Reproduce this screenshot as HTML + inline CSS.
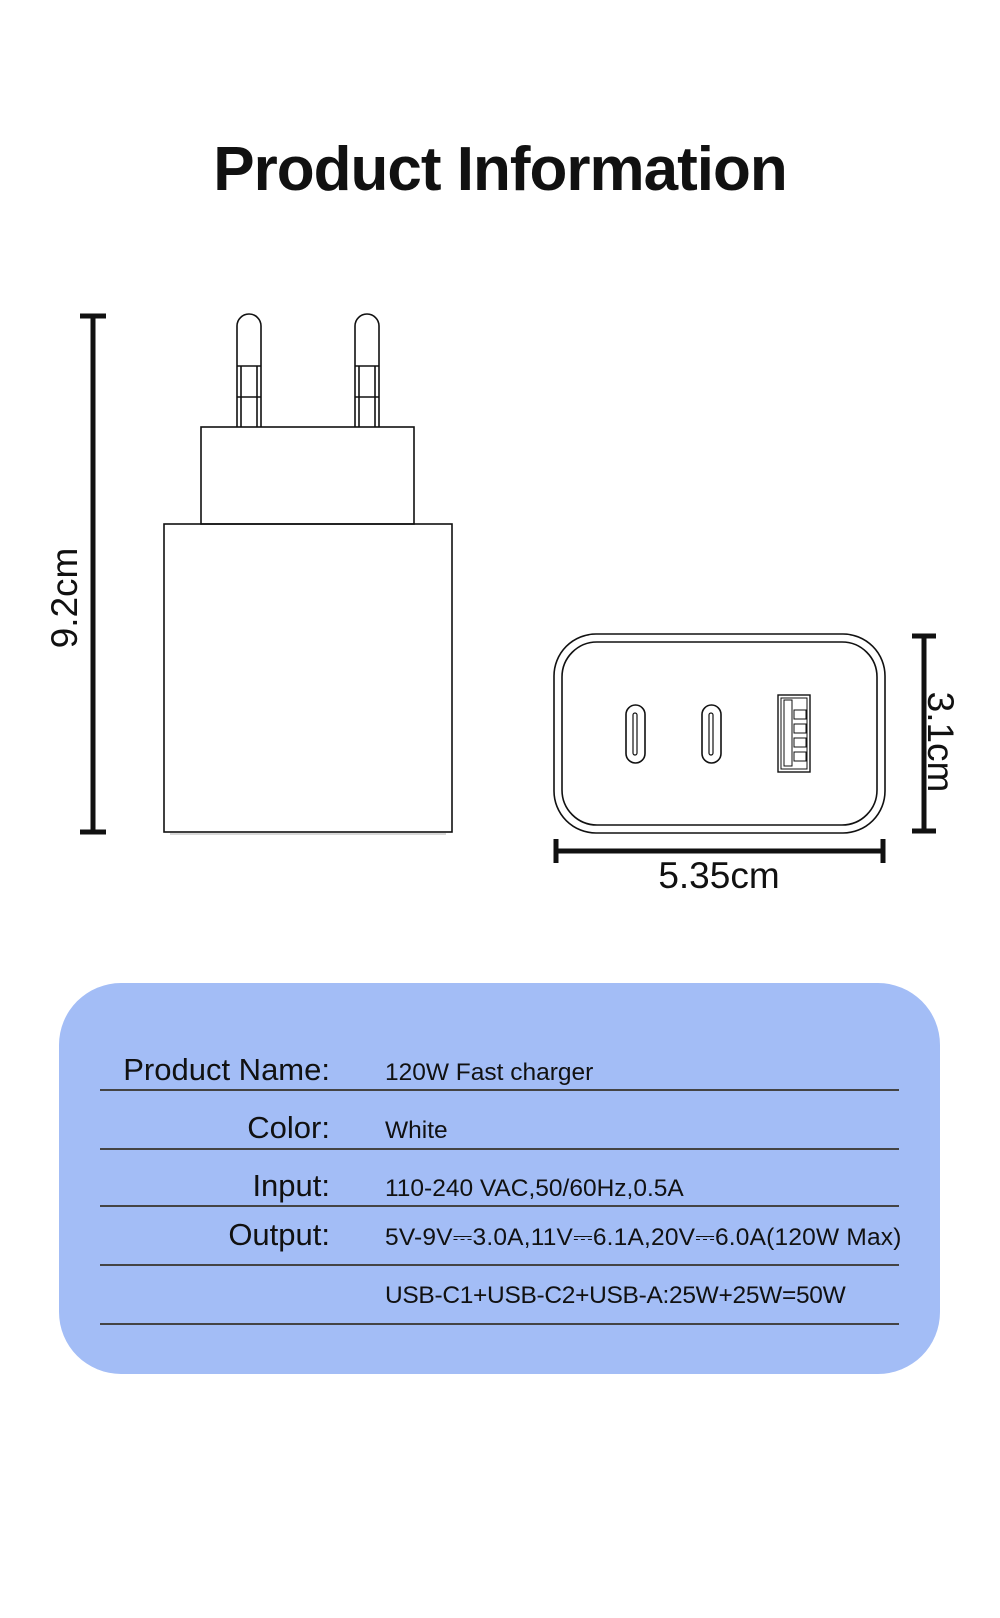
<!DOCTYPE html>
<html><head><meta charset="utf-8"><style>
body{margin:0;background:#fff;}
.wrap{position:relative;width:1000px;height:1618px;overflow:hidden;background:#fff;font-family:"Liberation Sans",sans-serif;}
.t{position:absolute;white-space:nowrap;color:#111;}
</style></head><body><div class="wrap">
<div class="t" style="left:0;width:1000px;text-align:center;top:134px;font-size:62px;font-weight:bold;letter-spacing:-1px">Product Information</div>

<svg width="1000" height="950" style="position:absolute;left:0;top:0" fill="none" stroke="#111">
 <g stroke-width="5">
  <line x1="93" y1="315" x2="93" y2="833"/><line x1="80" y1="316" x2="106" y2="316"/><line x1="80" y1="832" x2="106" y2="832"/>
  <line x1="924" y1="634" x2="924" y2="833"/><line x1="912" y1="636" x2="936" y2="636"/><line x1="912" y1="831" x2="936" y2="831"/>
  <line x1="554" y1="851" x2="885" y2="851"/><line x1="556" y1="839" x2="556" y2="863"/><line x1="883" y1="839" x2="883" y2="863"/>
 </g>
 <g stroke-width="1.6">
  <path d="M237 427 V326 A12 12 0 0 1 261 326 V427"/><line x1="237" y1="366" x2="261" y2="366"/><line x1="237" y1="397" x2="261" y2="397"/>
  <line x1="241" y1="366" x2="241" y2="427"/><line x1="257" y1="366" x2="257" y2="427"/>
  <path d="M355 427 V326 A12 12 0 0 1 379 326 V427"/><line x1="355" y1="366" x2="379" y2="366"/><line x1="355" y1="397" x2="379" y2="397"/>
  <line x1="359" y1="366" x2="359" y2="427"/><line x1="375" y1="366" x2="375" y2="427"/>
  <rect x="201" y="427" width="213" height="97"/>
  <rect x="164" y="524" width="288" height="308"/>
  <line x1="170" y1="834" x2="446" y2="834" stroke-width="0.8" stroke="#999"/>
  <rect x="554" y="634" width="331" height="199" rx="42"/>
  <rect x="562" y="642" width="315" height="183" rx="35"/>
  <rect x="626" y="705" width="19" height="58" rx="9.5"/>
  <rect x="633" y="713" width="4" height="42" rx="2" stroke-width="1.2"/>
  <rect x="702" y="705" width="19" height="58" rx="9.5"/>
  <rect x="709" y="713" width="4" height="42" rx="2" stroke-width="1.2"/>
  <rect x="778" y="695" width="32" height="77" stroke-width="1.4"/>
  <rect x="781" y="698" width="26" height="71" stroke-width="1"/>
  <rect x="784" y="700" width="8" height="66" stroke-width="1"/>
  <rect x="794" y="710" width="12" height="9" stroke-width="1"/>
  <rect x="794" y="724" width="12" height="9" stroke-width="1"/>
  <rect x="794" y="738" width="12" height="9" stroke-width="1"/>
  <rect x="794" y="752" width="12" height="9" stroke-width="1"/>
 </g>
</svg>
<div class="t" style="left:65px;top:598px;font-size:37px;transform:translate(-50%,-50%) rotate(-90deg)">9.2cm</div>
<div class="t" style="left:940px;top:742px;font-size:37px;transform:translate(-50%,-50%) rotate(90deg)">3.1cm</div>
<div class="t" style="left:719px;top:876px;font-size:37px;transform:translate(-50%,-50%)">5.35cm</div>

<div style="position:absolute;left:59px;top:983px;width:881px;height:391px;border-radius:62px;background:#a3bdf6"></div>
<div style="position:absolute;left:100px;width:799px;height:2px;background:#444;top:1089px"></div>
<div style="position:absolute;left:100px;width:799px;height:2px;background:#444;top:1148px"></div>
<div style="position:absolute;left:100px;width:799px;height:2px;background:#444;top:1205px"></div>
<div style="position:absolute;left:100px;width:799px;height:2px;background:#444;top:1264px"></div>
<div style="position:absolute;left:100px;width:799px;height:2px;background:#444;top:1323px"></div>
<div class="t" style="right:670px;top:1052px;font-size:31px">Product Name:</div>
<div class="t" style="right:670px;top:1110px;font-size:31px">Color:</div>
<div class="t" style="right:670px;top:1168px;font-size:31px">Input:</div>
<div class="t" style="right:670px;top:1217px;font-size:31px">Output:</div>
<div class="t" style="left:385px;top:1059px;font-size:24.5px">120W Fast charger</div>
<div class="t" style="left:385px;top:1117px;font-size:24.5px">White</div>
<div class="t" style="left:385px;top:1175px;font-size:24.5px">110-240 VAC,50/60Hz,0.5A</div>
<div class="t" style="left:385px;top:1224px;font-size:24.5px;letter-spacing:0.2px">5V-9V⎓3.0A,11V⎓6.1A,20V⎓6.0A(120W Max)</div>
<div class="t" style="left:385px;top:1282px;font-size:24.5px;letter-spacing:-0.3px">USB-C1+USB-C2+USB-A:25W+25W=50W</div>
</div></body></html>
